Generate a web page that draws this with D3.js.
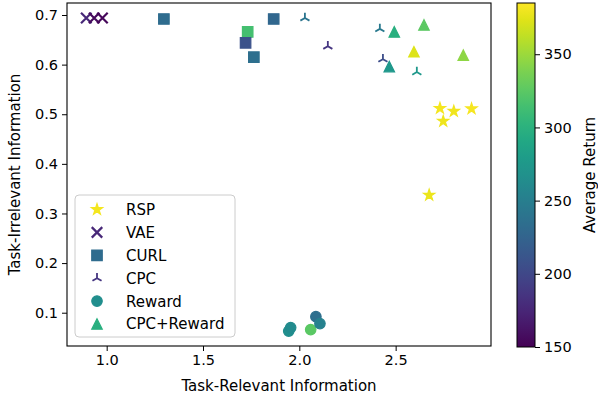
<!DOCTYPE html>
<html>
<head>
    <title>Task-relevant vs task-irrelevant information</title>
    <script src="https://d3js.org/d3.v7.min.js"></script>
    <style>
        body { margin: 0; background: #fff; }
        text { font-family: "DejaVu Sans", sans-serif; fill: #000; }
    </style>
</head>
<body>
    <div id="chart"></div>

    <script>
        // data: x = task-relevant, y = task-irrelevant, ret = average return
        var rspX = [2.730, 2.802, 2.894, 2.747, 2.674];
        var rspY = [0.512, 0.506, 0.511, 0.486, 0.337];
        var rspRet = [381, 380, 382, 379, 378];

        var vaeX = [0.894, 0.935, 0.978];
        var vaeY = [0.694, 0.694, 0.694];
        var vaeRet = [176, 156, 154];

        var curlX = [1.297, 1.867, 1.732, 1.721, 1.764];
        var curlY = [0.692, 0.692, 0.666, 0.644, 0.615];
        var curlRet = [232, 228, 315, 209, 235];

        var cpcX = [2.148, 2.029, 2.418, 2.434, 2.610];
        var cpcY = [0.637, 0.694, 0.672, 0.611, 0.585];
        var cpcRet = [186, 240, 245, 205, 275];

        var rewardX = [1.945, 1.955, 2.059, 2.086, 2.107];
        var rewardY = [0.063, 0.070, 0.066, 0.092, 0.078];
        var rewardRet = [265, 262, 325, 235, 252];

        var cpcRewX = [2.493, 2.647, 2.595, 2.851, 2.467];
        var cpcRewY = [0.666, 0.680, 0.626, 0.619, 0.596];
        var cpcRewRet = [298, 326, 373, 345, 275];

        var xTicks = [1.0, 1.5, 2.0, 2.5];
        var yTicks = [0.1, 0.2, 0.3, 0.4, 0.5, 0.6, 0.7];
        var cTicks = [150, 200, 250, 300, 350];

        // layout
        var W = 598, H = 398;
        var plot = {left: 67, right: 491, top: 3, bottom: 346};
        var bar = {left: 517, right: 535, top: 3, bottom: 347};

        var svg = d3.select("#chart").append("svg")
            .attr("width", W).attr("height", H);

        var x = d3.scaleLinear().domain([0.794, 2.995]).range([plot.left, plot.right]);
        var y = d3.scaleLinear().domain([0.0329, 0.7242]).range([plot.bottom, plot.top]);
        var color = d3.scaleSequential(d3.interpolateViridis).domain([150, 385]);

        // custom marker shapes (matplotlib style)
        var M = 10.5;
        var triUp = { draw: function(ctx, s) {
            var r = s / 2;
            ctx.moveTo(0, 0); ctx.lineTo(0, -r);
            ctx.moveTo(0, 0); ctx.lineTo(-r * 0.866, r * 0.5);
            ctx.moveTo(0, 0); ctx.lineTo(r * 0.866, r * 0.5);
        }};
        var cross = { draw: function(ctx, s) {
            var r = s / 2;
            ctx.moveTo(-r, -r); ctx.lineTo(r, r);
            ctx.moveTo(-r, r); ctx.lineTo(r, -r);
        }};
        var square = { draw: function(ctx, s) {
            var r = s / 2;
            ctx.rect(-r, -r, s, s);
        }};
        var triangle = { draw: function(ctx, s) {
            var r = s / 2;
            ctx.moveTo(0, -r); ctx.lineTo(-r, r); ctx.lineTo(r, r); ctx.closePath();
        }};
        var circle = { draw: function(ctx, s) {
            var r = s / 2;
            ctx.moveTo(r, 0); ctx.arc(0, 0, r, 0, 2 * Math.PI);
        }};
        var star = { draw: function(ctx, s) {
            var R = s / 2 + 0.6, rin = R * 0.381966;
            for (var i = 0; i < 10; i++) {
                var rr = i % 2 ? rin : R;
                var a = -Math.PI / 2 + i * Math.PI / 5;
                if (i === 0) ctx.moveTo(rr * Math.cos(a), rr * Math.sin(a));
                else ctx.lineTo(rr * Math.cos(a), rr * Math.sin(a));
            }
            ctx.closePath();
        }};

        var series = [
            {name: "RSP", xs: rspX, ys: rspY, ret: rspRet, type: star, filled: true},
            {name: "VAE", xs: vaeX, ys: vaeY, ret: vaeRet, type: cross, filled: false, lw: 2.2},
            {name: "CURL", xs: curlX, ys: curlY, ret: curlRet, type: square, filled: true},
            {name: "CPC", xs: cpcX, ys: cpcY, ret: cpcRet, type: triUp, filled: false, lw: 1.8},
            {name: "Reward", xs: rewardX, ys: rewardY, ret: rewardRet, type: circle, filled: true},
            {name: "CPC+Reward", xs: cpcRewX, ys: cpcRewY, ret: cpcRewRet, type: triangle, filled: true}
        ];

        function styleMarker(sel, s, c) {
            if (s.filled) {
                sel.attr("fill", c).attr("stroke", c).attr("stroke-width", 1.2);
            } else {
                sel.attr("fill", "none").attr("stroke", c).attr("stroke-width", s.lw);
            }
        }

        // points
        var pts = svg.append("g");
        series.forEach(function(s) {
            var rows = s.xs.map(function(v, i) { return {x: v, y: s.ys[i], r: s.ret[i]}; });
            pts.selectAll(null)
                .data(rows)
                .enter()
                .append("path")
                .attr("d", d3.symbol().type(s.type).size(M))
                .attr("transform", function(d) { return "translate(" + x(d.x) + "," + y(d.y) + ")"; })
                .each(function(d) { styleMarker(d3.select(this), s, color(d.r)); });
        });

        // axes
        var xAxis = svg.append("g")
            .attr("transform", "translate(0," + plot.bottom + ")")
            .call(d3.axisBottom(x).tickValues(xTicks).tickFormat(d3.format(".1f")).tickSize(5).tickPadding(4));
        var yAxis = svg.append("g")
            .attr("transform", "translate(" + plot.left + ",0)")
            .call(d3.axisLeft(y).tickValues(yTicks).tickFormat(d3.format(".1f")).tickSize(5).tickPadding(4));
        [xAxis, yAxis].forEach(function(a) {
            a.select(".domain").remove();
            a.selectAll("text").style("font-size", "14.5px").attr("fill", "#000");
            a.selectAll("line").attr("stroke", "#000").attr("stroke-width", 1);
        });

        svg.append("rect")
            .attr("x", plot.left).attr("y", plot.top)
            .attr("width", plot.right - plot.left).attr("height", plot.bottom - plot.top)
            .attr("fill", "none").attr("stroke", "#000").attr("stroke-width", 1.1);

        svg.append("text")
            .attr("x", (plot.left + plot.right) / 2).attr("y", 391)
            .attr("text-anchor", "middle").style("font-size", "15px")
            .text("Task-Relevant Information");

        svg.append("text")
            .attr("transform", "translate(20," + ((plot.top + plot.bottom) / 2) + ") rotate(-90)")
            .attr("text-anchor", "middle").style("font-size", "15px")
            .text("Task-Irrelevant Information");

        // legend
        var leg = svg.append("g");
        leg.append("rect")
            .attr("x", 75).attr("y", 195).attr("width", 160).attr("height", 142)
            .attr("rx", 4).attr("fill", "#fff").attr("fill-opacity", 0.8)
            .attr("stroke", "#cccccc").attr("stroke-width", 1);
        series.forEach(function(s, i) {
            var cy = 209.5 + i * 22.9;
            leg.append("path")
                .attr("d", d3.symbol().type(s.type).size(M))
                .attr("transform", "translate(97," + cy + ")")
                .call(styleMarker, s, color(s.ret[0]));
            leg.append("text")
                .attr("x", 126).attr("y", cy).attr("dy", "0.36em")
                .style("font-size", "15px")
                .text(s.name);
        });

        // colorbar
        var defs = svg.append("defs");
        var grad = defs.append("linearGradient").attr("id", "viridis")
            .attr("x1", 0).attr("y1", 1).attr("x2", 0).attr("y2", 0);
        d3.range(0, 1.001, 0.05).forEach(function(t) {
            grad.append("stop").attr("offset", t).attr("stop-color", d3.interpolateViridis(t));
        });
        svg.append("rect")
            .attr("x", bar.left).attr("y", bar.top)
            .attr("width", bar.right - bar.left).attr("height", bar.bottom - bar.top)
            .attr("fill", "url(#viridis)").attr("stroke", "#000").attr("stroke-width", 1);

        var cScale = d3.scaleLinear().domain(color.domain()).range([bar.bottom, bar.top]);
        var cAxis = svg.append("g")
            .attr("transform", "translate(" + bar.right + ",0)")
            .call(d3.axisRight(cScale).tickValues(cTicks).tickSize(5).tickPadding(4));
        cAxis.select(".domain").remove();
        cAxis.selectAll("text").style("font-size", "14.5px").attr("fill", "#000");
        cAxis.selectAll("line").attr("stroke", "#000");

        svg.append("text")
            .attr("transform", "translate(590," + ((bar.top + bar.bottom) / 2) + ") rotate(-90)")
            .attr("text-anchor", "middle").attr("dy", "0.35em").style("font-size", "15px")
            .text("Average Return");
    </script>
</body>
</html>
